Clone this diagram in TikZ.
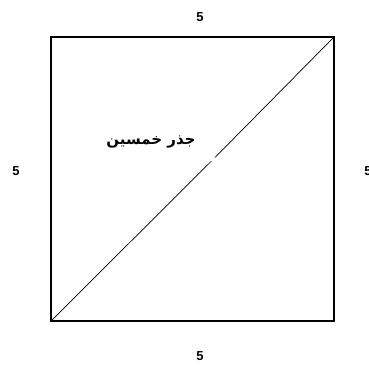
\documentclass[tikz,border=0pt]{standalone}
\usepackage{fontspec}
\setmainfont{Liberation Sans}
\newfontfamily\arabicfont[Script=Arabic]{DejaVu Sans}
\TeXXeTstate=1
\begin{document}
\begin{tikzpicture}[x=1pt,y=-1pt,
  lbl/.style={font=\bfseries\fontsize{13}{15}\selectfont, inner sep=0pt},
  side/.style={draw=black, line width=1.4pt},
  diag/.style={draw=black, line width=0.7pt}]
\useasboundingbox (0,0) rectangle (369,370);
\coordinate (bl) at (51,321);
\coordinate (br) at (334,321);
\coordinate (tr) at (334,37);
\coordinate (tl) at (51,37);
\coordinate (g1) at (211.5,161);
\coordinate (g2) at (215,157.5);
\draw[side] (bl) -- (br) -- (tr) -- (tl) -- cycle;
\draw[diag] (bl) -- (g1);
\draw[diag] (g2) -- (tr);
\node[lbl] (top) at (200,17) {5};
\node[lbl] (bot) at (200,356) {5};
\node[lbl] (left) at (16,171) {5};
\node[lbl] (right) at (368,171) {5};
\node[inner sep=0pt, font=\arabicfont\bfseries\fontsize{15}{18}\selectfont] (txt) at (151,142) {\beginR جذر خمسين\endR};
\end{tikzpicture}
\end{document}
